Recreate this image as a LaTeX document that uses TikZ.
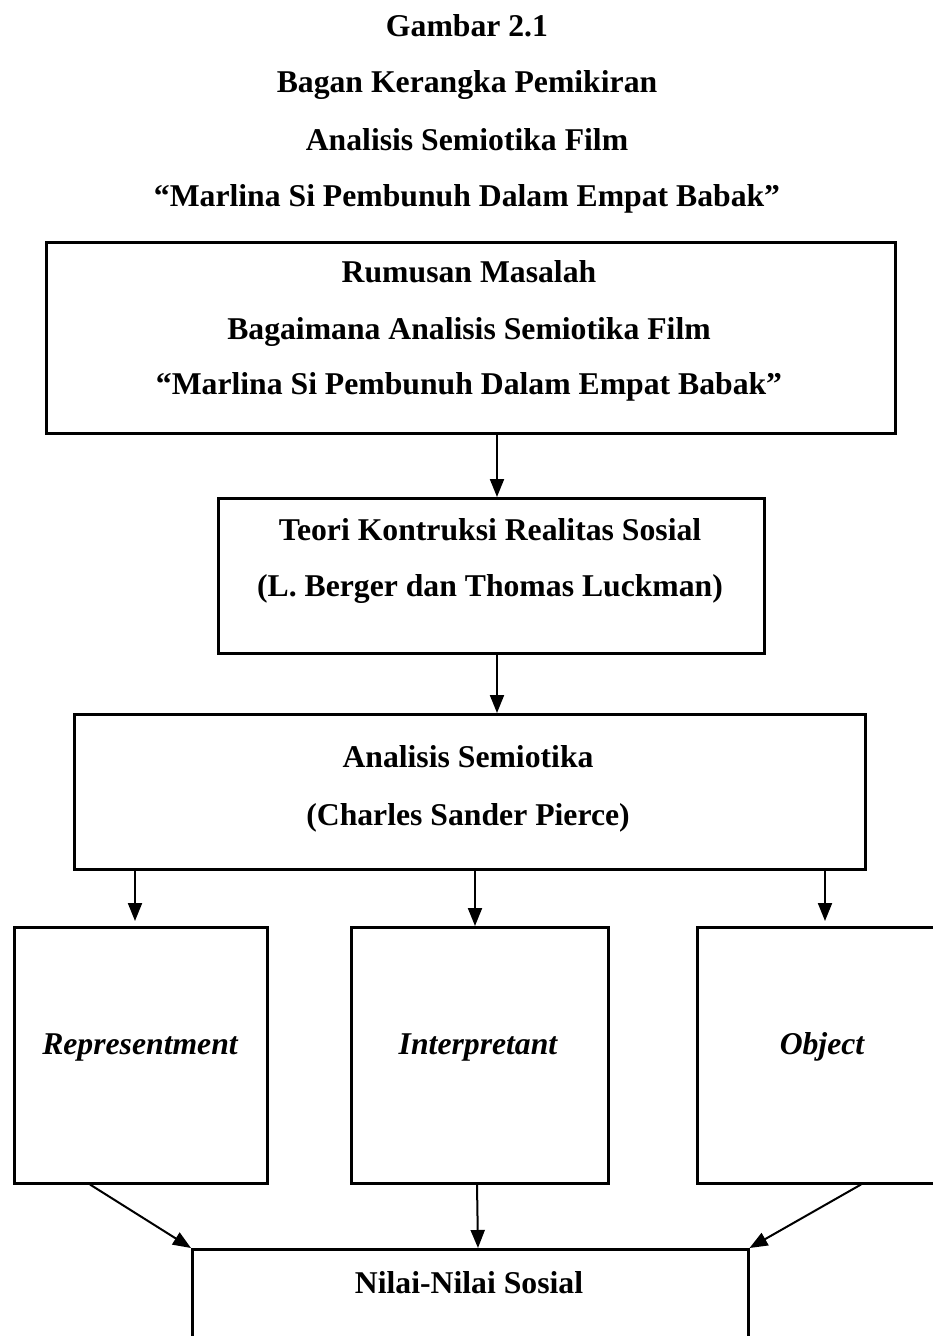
\documentclass[tikz,border=0pt]{standalone}
\usepackage{fontspec}
\setmainfont{Liberation Serif}
\usetikzlibrary{arrows.meta,calc}
\tikzset{
	tulisan/.style={font=\fontsize{31.7}{38}\selectfont\bfseries, anchor=base, inner sep=0pt},
	miring/.style={tulisan, font=\fontsize{31.7}{38}\selectfont\bfseries\itshape},
	panah/.style={-{Triangle[length=18pt,width=14pt]}, line width=2pt},
}
\newcommand{\kotak}[5]{
	\node[draw, line width=2.5pt, minimum width=#4pt, minimum height=#5pt, inner sep=0pt, anchor=north west] (box_#1) at (#2pt,#3pt) {};
}

\begin{document}
\begin{tikzpicture}
		\useasboundingbox (0,0) rectangle (933pt,-1336pt);

		\node[tulisan] (judul_1) at (467pt,-36pt) {Gambar 2.1};
		\node[tulisan] (judul_2) at (467pt,-92pt) {Bagan Kerangka Pemikiran};
		\node[tulisan] (judul_3) at (467pt,-150pt) {Analisis Semiotika Film};
		\node[tulisan] (judul_4) at (467pt,-206pt) {“Marlina Si Pembunuh Dalam Empat Babak”};

		\kotak{rumusan}{45}{-241}{849}{191}
		\node[tulisan] (rumusan_1) at (469pt,-282pt) {Rumusan Masalah};
		\node[tulisan] (rumusan_2) at (469pt,-339pt) {Bagaimana Analisis Semiotika Film};
		\node[tulisan] (rumusan_3) at (469pt,-394pt) {“Marlina Si Pembunuh Dalam Empat Babak”};

		\kotak{teori}{217}{-497}{546}{155}
		\node[tulisan] (teori_1) at (490pt,-540pt) {Teori Kontruksi Realitas Sosial};
		\node[tulisan] (teori_2) at (490pt,-596pt) {(L. Berger dan Thomas Luckman)};

		\kotak{analisis}{73}{-713}{791}{155}
		\node[tulisan] (analisis_1) at (468pt,-767pt) {Analisis Semiotika};
		\node[tulisan] (analisis_2) at (468pt,-825pt) {(Charles Sander Pierce)};

		\kotak{rep}{13}{-926}{253}{256}
		\node[miring] (rep_txt) at (140pt,-1054pt) {Representment};
		\kotak{interp}{350}{-926}{257}{256}
		\node[miring] (interp_txt) at (478pt,-1054pt) {Interpretant};
		\kotak{objek}{696}{-926}{257}{256}
		\node[miring] (objek_txt) at (822pt,-1054pt) {Object};

		\kotak{nilai}{191}{-1248}{556}{150}
		\node[tulisan] (nilai_txt) at (469pt,-1293pt) {Nilai-Nilai Sosial};

		% panah antar kotak
		\draw[panah] (497pt,0 |- box_rumusan.south) -- (497pt,0 |- box_teori.north);
		\draw[panah] (497pt,0 |- box_teori.south) -- (497pt,0 |- box_analisis.north);

		\draw[panah, shorten >=5pt] (135pt,0 |- box_analisis.south) -- (135pt,0 |- box_rep.north);
		\draw[panah] (475pt,0 |- box_analisis.south) -- (475pt,0 |- box_interp.north);
		\draw[panah, shorten >=5pt] (825pt,0 |- box_analisis.south) -- (825pt,0 |- box_objek.north);

		\draw[panah] (90pt,0 |- box_rep.south) -- (box_nilai.north west);
		\draw[panah] (477pt,0 |- box_interp.south) -- (478pt,0 |- box_nilai.north);
		\draw[panah] (861pt,0 |- box_objek.south) -- (box_nilai.north east);
	\end{tikzpicture}
\end{document}
